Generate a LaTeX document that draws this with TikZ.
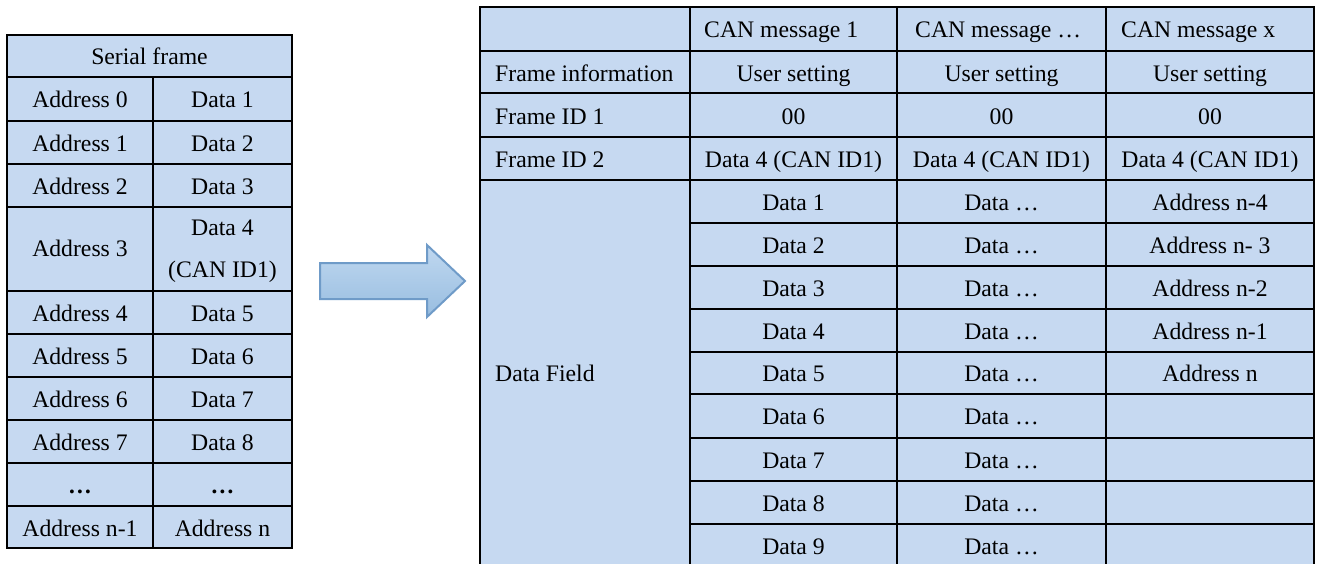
\documentclass[tikz,border=0pt]{standalone}
\usepackage{fontspec}
\setmainfont{Liberation Serif}
\definecolor{cellblue}{HTML}{C6D9F1}
\definecolor{arrowline}{HTML}{6F9BC8}
\definecolor{arrowtop}{HTML}{C0D8F0}
\definecolor{arrowbot}{HTML}{98BDE0}
\begin{document}
\begin{tikzpicture}[x=1pt,y=-1pt,
  gridline/.style={line width=2.2pt, black},
  cellfill/.style={fill=cellblue, draw=none},
  txt/.style={anchor=base, inner sep=0pt, font=\fontsize{23.7}{28}\selectfont},
  ltxt/.style={txt, anchor=base west}]
\fill[white] (0,0) rectangle (1317,563);
\useasboundingbox (0,0) rectangle (1317,563);
\clip (0,0) rectangle (1317,563);

% ---------- left table ----------
\fill[cellblue] (7,35) rectangle (292,548);
\foreach \y in {77,121,164,207,291,334,377,420,463,506}
  \draw[gridline] (7,\y) -- (292,\y);
\draw[gridline] (153,77) -- (153,548);
\draw[gridline] (7,35) rectangle (292,548);

\node[txt] (sf) at (149.5,64) {Serial frame};
\node[txt] (a0) at (80,107.5) {Address 0};
\node[txt] (d1) at (222.5,107.5) {Data 1};
\node[txt] (a1) at (80,151) {Address 1};
\node[txt] (d2) at (222.5,151) {Data 2};
\node[txt] (a2) at (80,194) {Address 2};
\node[txt] (d3) at (222.5,194) {Data 3};
\node[txt] (a3) at (80,256) {Address 3};
\node[txt] (d4) at (222.5,235) {Data 4};
\node[txt] (d4b) at (222.5,277) {(CAN ID1)};
\node[txt] (a4) at (80,321) {Address 4};
\node[txt] (d5) at (222.5,321) {Data 5};
\node[txt] (a5) at (80,364) {Address 5};
\node[txt] (d6) at (222.5,364) {Data 6};
\node[txt] (a6) at (80,407) {Address 6};
\node[txt] (d7) at (222.5,407) {Data 7};
\node[txt] (a7) at (80,450) {Address 7};
\node[txt] (d8) at (222.5,450) {Data 8};
\node[txt] (ae) at (80,493) {\textbf{…}};
\node[txt] (de) at (222.5,493) {\textbf{…}};
\node[txt] (an1) at (80,536) {Address n-1};
\node[txt] (an) at (222.5,536) {Address n};

% ---------- arrow ----------
\path[draw=arrowline, line width=2pt, top color=arrowtop, bottom color=arrowbot, line join=miter]
  (320,263) -- (427,263) -- (427,245) -- (465,281) -- (427,317) -- (427,299) -- (320,299) -- cycle;

% ---------- right table ----------
\fill[cellblue] (480,7) rectangle (1314,567);
\foreach \y in {51,93,137,180}
  \draw[gridline] (480,\y) -- (1314,\y);
\foreach \y in {223,266,309,352,394,438,481,524}
  \draw[gridline] (690,\y) -- (1314,\y);
\foreach \x in {690,897,1106}
  \draw[gridline] (\x,7) -- (\x,567);
\draw[gridline] (480,7) rectangle (1314,567);

\node[ltxt] (h1) at (704,37) {CAN message 1};
\node[ltxt] (h2) at (915,37) {CAN message …};
\node[ltxt] (h3) at (1121,37) {CAN message x};

\node[ltxt] (fi) at (495,81) {Frame information};
\node[txt] (us1) at (793.5,81) {User setting};
\node[txt] (us2) at (1001.5,81) {User setting};
\node[txt] (us3) at (1210,81) {User setting};

\node[ltxt] (id1) at (495,124) {Frame ID 1};
\node[txt] (z1) at (793.5,124) {00};
\node[txt] (z2) at (1001.5,124) {00};
\node[txt] (z3) at (1210,124) {00};

\node[ltxt] (id2) at (495,167) {Frame ID 2};
\node[txt] (c1) at (793.5,167) {Data 4 (CAN ID1)};
\node[txt] (c2) at (1001.5,167) {Data 4 (CAN ID1)};
\node[txt] (c3) at (1210,167) {Data 4 (CAN ID1)};

\node[ltxt] (df) at (495,381) {Data Field};

\foreach \i/\y in {1/210,2/253,3/296,4/339,5/381,6/424,7/468,8/511,9/554}{
  \node[txt] (m1d\i) at (793.5,\y) {Data \i};
  \node[txt] (m2d\i) at (1001.5,\y) {Data …};
}
\node[txt] (x1) at (1210,210) {Address n-4};
\node[txt] (x2) at (1210,253) {Address n- 3};
\node[txt] (x3) at (1210,296) {Address n-2};
\node[txt] (x4) at (1210,339) {Address n-1};
\node[txt] (x5) at (1210,381) {Address n};
\end{tikzpicture}
\end{document}
